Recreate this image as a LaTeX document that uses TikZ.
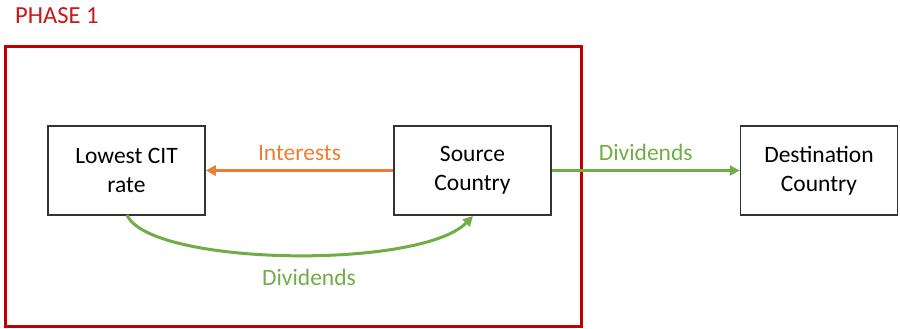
\documentclass[tikz,border=0pt]{standalone}
\usepackage{fontspec}
\setmainfont{Carlito}
\usetikzlibrary{arrows.meta}
\definecolor{phasered}{RGB}{192,0,0}
\definecolor{flowgreen}{RGB}{112,173,71}
\definecolor{floworange}{RGB}{237,125,49}
\tikzset{
  entity/.style={draw=black!80, line width=1.5pt, minimum width=157pt, minimum height=89pt,
    align=center, font=\fontsize{23.5}{29}\selectfont, inner sep=0pt},
  flowlabel/.style={font=\fontsize{23.5}{28}\selectfont},
  flow/.style={line width=3pt, -{Triangle[length=10pt,width=10pt]}}
}
\begin{document}
\begin{tikzpicture}[x=1pt,y=-1pt]
\useasboundingbox (0,0) rectangle (900,329);
% phase frame and title
\draw[phasered, line width=3pt] (5,47) rectangle (581,326);
\node[text=phasered!90!white, font=\fontsize{24.5}{28}\selectfont, anchor=west, inner xsep=0pt] (title) at (15,16) {PHASE 1};
% entities
\node[entity] (low) at (126.5,170.5) {Lowest CIT\\rate};
\node[entity] (src) at (472.5,170.5) {Source\\Country};
\node[entity] (dst) at (819,170.5) {Destination\\Country};
% flows
\draw[flow, floworange] (src.west) -- (low.east)
  node[midway, above=5pt, flowlabel] (lint) {Interests};
\draw[flow, flowgreen] (src.east) -- (dst.west)
  node[midway, above=5pt, flowlabel] (ldiv) {Dividends};
\coordinate (cstart) at (127,215);
\coordinate (cend) at (473,216);
\draw[flow, flowgreen] (cstart) .. controls (150,266) and (420,270) .. (cend);
\node[flowlabel, text=flowgreen] (lcurve) at (309,277) {Dividends};
\end{tikzpicture}
\end{document}
